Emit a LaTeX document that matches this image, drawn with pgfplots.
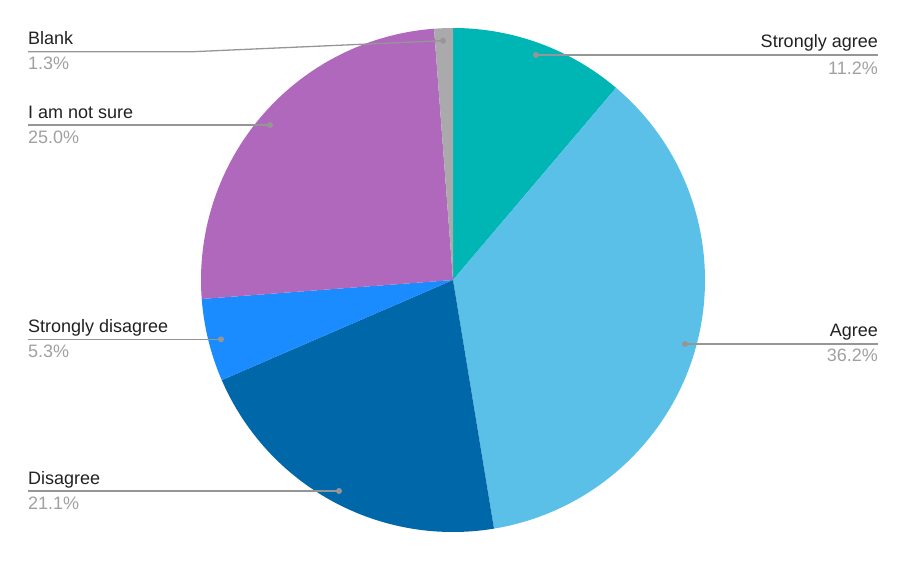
\documentclass[border=0pt]{standalone}
\usepackage{pgfplots}
\pgfplotsset{compat=1.18}
\usepackage{fontspec}
\setmainfont{Liberation Sans}
\definecolor{cSA}{RGB}{0,182,180}
\definecolor{cA}{RGB}{90,192,232}
\definecolor{cD}{RGB}{0,104,168}
\definecolor{cSD}{RGB}{26,140,255}
\definecolor{cNS}{RGB}{176,104,189}
\definecolor{cB}{RGB}{170,170,172}
\definecolor{txt}{RGB}{33,33,33}
\definecolor{pct}{RGB}{160,160,160}
\definecolor{lead}{RGB}{150,150,150}
\begin{document}
\begin{tikzpicture}[
  lab/.style={font=\fontsize{18bp}{21bp}\selectfont, text=txt, inner sep=0pt},
  pc/.style={font=\fontsize{18bp}{21bp}\selectfont, text=pct, inner sep=0pt},
  ld/.style={draw=lead, line width=1.3bp},
  dot/.style={fill=lead}
]
\begin{axis}[
  width=907bp, height=561bp, scale only axis,
  xmin=0, xmax=907, ymin=0, ymax=561,
  hide axis, clip=false
]
\path (axis cs:0,0) rectangle (axis cs:907,561);
% pie slices: percentages 11.2, 36.2, 21.1, 5.3, 25.0, 1.3 (clockwise from top)
\def\R{252bp}
\fill[cSA] (axis cs:453,281) -- +(90:\R) arc[start angle=90, end angle={90-3.6*11.2}, radius=\R] -- cycle;
\fill[cA]  (axis cs:453,281) -- +({90-3.6*11.2}:\R) arc[start angle={90-3.6*11.2}, end angle={90-3.6*47.4}, radius=\R] -- cycle;
\fill[cD]  (axis cs:453,281) -- +({90-3.6*47.4}:\R) arc[start angle={90-3.6*47.4}, end angle={90-3.6*68.5}, radius=\R] -- cycle;
\fill[cSD] (axis cs:453,281) -- +({90-3.6*68.5}:\R) arc[start angle={90-3.6*68.5}, end angle={90-3.6*73.8}, radius=\R] -- cycle;
\fill[cNS] (axis cs:453,281) -- +({90-3.6*73.8}:\R) arc[start angle={90-3.6*73.8}, end angle={90-3.6*98.8}, radius=\R] -- cycle;
\fill[cB]  (axis cs:453,281) -- +({90-3.6*98.8}:\R) arc[start angle={90-3.6*98.8}, end angle={90-3.6*100}, radius=\R] -- cycle;

% leader lines
\draw[ld] (axis cs:536,506) -- (axis cs:878,506);
\fill[dot] (axis cs:536,506) circle[radius=3bp];
\node[lab, anchor=base east] at (axis cs:878,513) {Strongly agree};
\node[pc, anchor=base east] at (axis cs:878,486.7) {11.2\%};

\draw[ld] (axis cs:685,217) -- (axis cs:878,217);
\fill[dot] (axis cs:685,217) circle[radius=3bp];
\node[lab, anchor=base east] at (axis cs:878,224) {Agree};
\node[pc, anchor=base east] at (axis cs:878,199) {36.2\%};

\draw[ld] (axis cs:28,509.3) -- (axis cs:193,509.3) -- (axis cs:443,520.3);
\fill[dot] (axis cs:443,520.3) circle[radius=3bp];
\node[lab, anchor=base west] at (axis cs:28,516) {Blank};
\node[pc, anchor=base west] at (axis cs:28,491) {1.3\%};

\draw[ld] (axis cs:28,436) -- (axis cs:270,436);
\fill[dot] (axis cs:270,436) circle[radius=3bp];
\node[lab, anchor=base west] at (axis cs:28,442) {I am not sure};
\node[pc, anchor=base west] at (axis cs:28,417) {25.0\%};

\draw[ld] (axis cs:28,221.7) -- (axis cs:221,221.7);
\fill[dot] (axis cs:221,221.7) circle[radius=3bp];
\node[lab, anchor=base west] at (axis cs:28,228.7) {Strongly disagree};
\node[pc, anchor=base west] at (axis cs:28,203) {5.3\%};

\draw[ld] (axis cs:28,70) -- (axis cs:339,70);
\fill[dot] (axis cs:339,70) circle[radius=3bp];
\node[lab, anchor=base west] at (axis cs:28,76.7) {Disagree};
\node[pc, anchor=base west] at (axis cs:28,51) {21.1\%};
\end{axis}
\end{tikzpicture}
\end{document}
